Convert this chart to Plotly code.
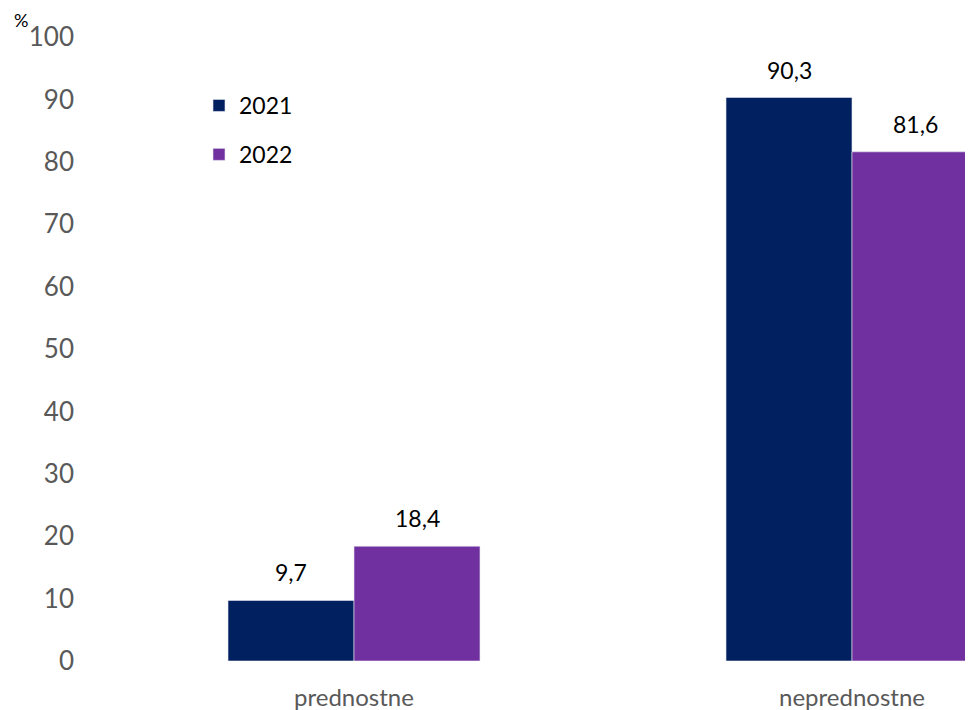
import plotly.graph_objects as go

categories = ["prednostne", "neprednostne"]
years = ["2021", "2022"]
values_2021 = [9.7, 90.3]
values_2022 = [18.4, 81.6]
y_ticks = [0, 10, 20, 30, 40, 50, 60, 70, 80, 90, 100]

colors = {"2021": "#002060", "2022": "#7030A0"}
series = {"2021": values_2021, "2022": values_2022}

FONT = "Lato, 'Open Sans', sans-serif"

W, H = 973, 702
ML, MR, MT, MB = 97, 0, 29, 49
PW, PH = W - ML - MR, H - MT - MB
CAT_PX = 498  # pixels per category

fig = go.Figure()
for yr in years:
    fig.add_trace(go.Bar(
        x=categories, y=series[yr], name=yr,
        marker=dict(color=colors[yr], line=dict(color="#e8e8f0", width=0.6)),
        legendgroup=yr,
    ))

offsets = {"2021": -0.1265, "2022": 0.1265}
annotations = []
for yr in years:
    for i, v in enumerate(series[yr]):
        annotations.append(dict(
            x=i + offsets[yr], y=v, xref="x", yref="y",
            text=f"{v:.1f}".replace(".", ","), showarrow=False,
            yanchor="bottom", yshift=12,
            font=dict(family=FONT, size=23, color="#000000"),
        ))
annotations.append(dict(
    x=(4 - ML) / PW, y=1 + (MT - 12) / PH, xref="paper", yref="paper",
    xanchor="left", yanchor="middle",
    text="%", showarrow=False, font=dict(family=FONT, size=18, color="#000000"),
))

fig.update_layout(
    width=W, height=H,
    margin=dict(l=ML, r=MR, t=MT, b=MB),
    paper_bgcolor="white", plot_bgcolor="white",
    barmode="group", bargap=0.494, bargroupgap=0,
    separators=", ",
    font=dict(family=FONT),
    showlegend=True,
    legend=dict(
        x=(199 - 8 - ML) / PW, y=1 - (84 - 37) / PH, xanchor="left", yanchor="top",
        font=dict(family=FONT, size=23, color="#000000"),
        traceorder="grouped", tracegroupgap=16,
        bgcolor="rgba(0,0,0,0)", itemwidth=30,
    ),
    xaxis=dict(
        type="category", range=[-0.5, -0.5 + PW / CAT_PX], automargin=False,
        showgrid=False, showline=False, zeroline=False,
        tickfont=dict(family=FONT, size=24, color="#595959"),
        ticks="", ticklabelstandoff=20,
    ),
    yaxis=dict(
        range=[0, 100], tickvals=y_ticks, automargin=False,
        showgrid=False, showline=False, zeroline=False,
        tickfont=dict(family=FONT, size=26, color="#595959"),
        ticks="", ticklabelstandoff=30,
    ),
    annotations=annotations,
)

fig.write_html("out.html")
